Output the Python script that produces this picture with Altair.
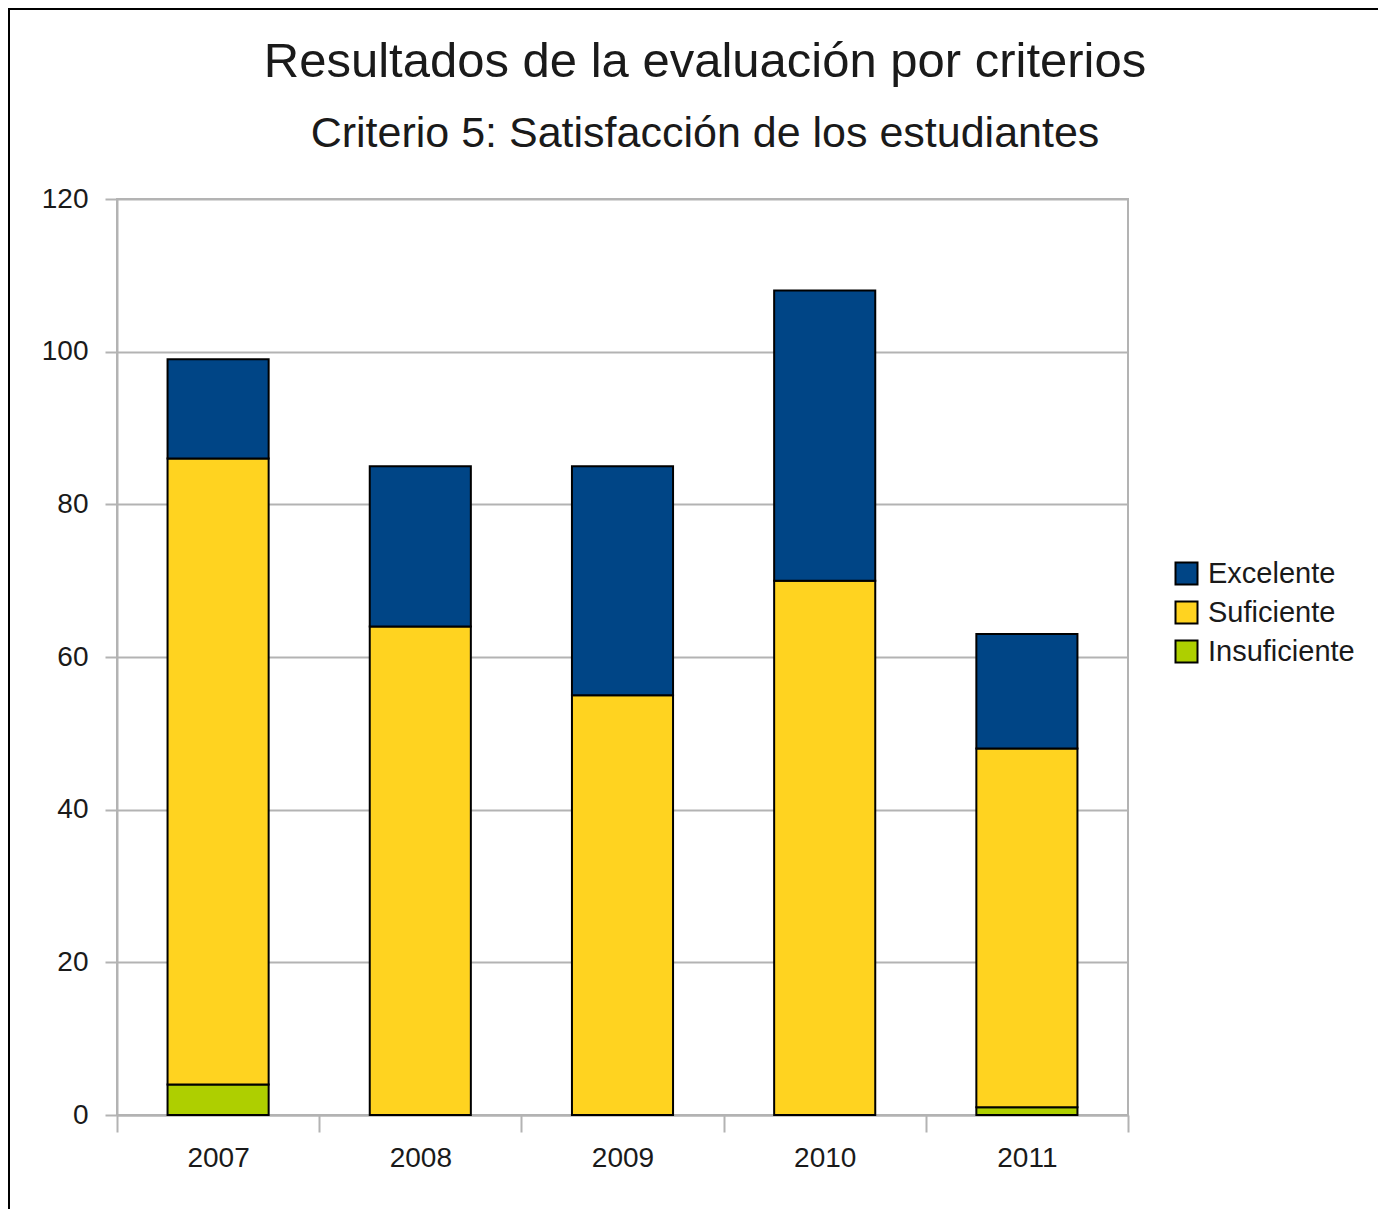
import altair as alt
import pandas as pd

years = ["2007", "2008", "2009", "2010", "2011"]
insuficiente = [4, 0, 0, 0, 1]
suficiente = [82, 64, 55, 70, 47]
excelente = [13, 21, 30, 38, 15]

categories = ["Excelente", "Suficiente", "Insuficiente"]
colors = ["#004586", "#ffd320", "#aecf00"]
stack_rank = {"Insuficiente": 0, "Suficiente": 1, "Excelente": 2}
y_ticks = [0, 20, 40, 60, 80, 100, 120]

title_text = "Resultados de la evaluación por criterios"
subtitle_text = "Criterio 5: Satisfacción de los estudiantes"

rows = []
for i, yr in enumerate(years):
    for cat, series in (("Insuficiente", insuficiente), ("Suficiente", suficiente), ("Excelente", excelente)):
        if series[i] > 0:
            rows.append({"year": yr, "cat": cat, "value": series[i], "ord": stack_rank[cat]})
df = pd.DataFrame(rows)

FONT = "Liberation Sans"
GRAY = "#b3b3b3"
TEXT = "#1a1a1a"

bars = alt.Chart(df).mark_bar(
    stroke="black", strokeWidth=2, width=alt.RelativeBandSize(0.5)
).encode(
    x=alt.X(
        "year:N",
        sort=years,
        scale=alt.Scale(paddingInner=0, paddingOuter=0),
        axis=alt.Axis(
            title=None, labelAngle=0, tickBand="extent", tickSize=17, grid=False,
            labelFontSize=28, labelPadding=12, labelFont=FONT, labelColor=TEXT,
        ),
    ),
    y=alt.Y(
        "value:Q",
        stack="zero",
        scale=alt.Scale(domain=[0, 120], nice=False),
        axis=alt.Axis(
            title=None, values=y_ticks, tickSize=12, grid=True,
            labelFontSize=28, labelPadding=17, labelFont=FONT, labelColor=TEXT,
        ),
    ),
    color=alt.Color(
        "cat:N",
        scale=alt.Scale(domain=categories, range=colors),
        legend=alt.Legend(
            title=None, orient="none", legendX=1055, legendY=360,
            symbolType="square", symbolSize=484, symbolStrokeColor="black",
            symbolStrokeWidth=2, symbolOpacity=1, labelFontSize=29, labelFont=FONT,
            labelColor=TEXT, rowPadding=8, labelOffset=7,
        ),
    ),
    order=alt.Order("ord:Q", sort="ascending"),
)

frame_data = alt.Data(values=[{"k": 1}])
frame_left = alt.Chart(frame_data).mark_rule(color="black", strokeWidth=2).encode(
    x=alt.value(-108), y=alt.value(-191), y2=alt.value(1200)
)
frame_top = alt.Chart(frame_data).mark_rule(color="black", strokeWidth=2).encode(
    y=alt.value(-190), x=alt.value(-109), x2=alt.value(1400)
)
title_mark = alt.Chart(frame_data).mark_text(
    text=title_text, font=FONT, fontSize=49, color=TEXT, align="center", baseline="alphabetic"
).encode(x=alt.value(588), y=alt.value(-122))
subtitle_mark = alt.Chart(frame_data).mark_text(
    text=subtitle_text, font=FONT, fontSize=43, color=TEXT, align="center", baseline="alphabetic"
).encode(x=alt.value(588), y=alt.value(-52))

chart = alt.layer(bars, frame_left, frame_top, title_mark, subtitle_mark).properties(
    width=1011,
    height=916,
    autosize=alt.AutoSizeParams(type="none"),
    padding={"left": 109, "top": 191, "right": 250, "bottom": 94},
).configure_axis(
    domainColor=GRAY, tickColor=GRAY, gridColor=GRAY,
    domainWidth=2, tickWidth=2, gridWidth=2,
).configure_view(stroke=GRAY, strokeWidth=2)

chart.save("out.html", embed_options={"renderer": "svg", "actions": False})
